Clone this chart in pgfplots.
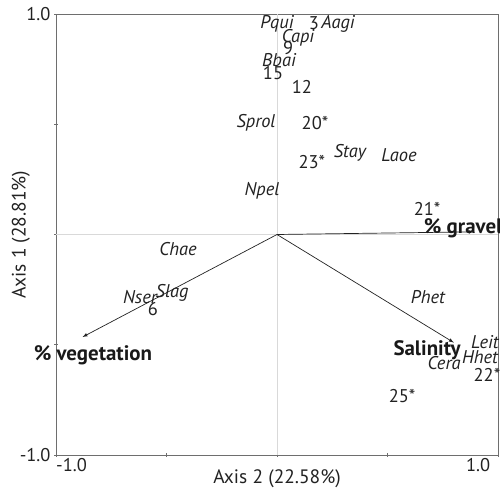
\documentclass[border=0pt]{standalone}
\usepackage{fontspec}
\setmainfont{PT Sans}
\usepackage{pgfplots}
\pgfplotsset{compat=1.18}
\definecolor{txt}{HTML}{222222}
\definecolor{frame}{HTML}{6e6e6e}
\begin{document}
\begin{tikzpicture}
\begin{axis}[
  scale only axis, width=442bp, height=441bp,
  xmin=-1, xmax=1, ymin=-1, ymax=1,
  clip=false,
  axis line style={frame, line width=0.9pt},
  tick pos=left, tick align=center,
  major tick length=4pt,
  tick style={frame, line width=0.8pt},
  xtick={-1,-0.5,0,0.5,1}, ytick={-1,-0.5,0,0.5,1},
  xticklabels={}, yticklabels={{-1.0},{},{},{},{1.0}},
  extra x ticks={-0.93,0.91},
  extra x tick labels={{-1.0},{1.0}},
  extra x tick style={major tick length=0pt},
  ticklabel style={font=\fontsize{18.5}{21}\selectfont, text=txt},
  /pgf/number format/assume math mode=true,
  xlabel={Axis 2 (22.58\%)}, ylabel={Axis 1 (28.81\%)},
  label style={font=\fontsize{19.5}{22}\selectfont, text=txt},
  xlabel style={yshift=11bp},
  ylabel style={yshift=-17bp},
]
\addplot[gray!30, line width=0.6pt] coordinates {(-1,0) (1,0)};
\addplot[gray!30, line width=0.6pt] coordinates {(0,-1) (0,1)};
% arrows
\addplot[-latex, txt, line width=0.7pt] coordinates {(0,0) (0.89,0.012)};
\addplot[-latex, txt, line width=0.7pt] coordinates {(0,0) (-0.88,-0.465)};
\addplot[-latex, txt, line width=0.7pt] coordinates {(0,0) (0.80,-0.49)};
% species (italic)
\addplot[draw=none, mark=none, nodes near coords, point meta=explicit symbolic,
  nodes near coords style={anchor=center, inner sep=0pt, text=txt, font=\fontsize{18.5}{21}\selectfont\itshape}]
coordinates {
(0.0,0.957) [Pqui]
(0.276,0.953) [Aagi]
(0.095,0.891) [Capi]
(0.009,0.791) [Bbai]
(-0.095,0.505) [Sprol]
(0.33,0.370) [Stay]
(0.552,0.361) [Laoe]
(-0.068,0.197) [Npel]
(-0.448,-0.066) [Chae]
(-0.62,-0.283) [Nser]
(-0.475,-0.265) [Slag]
(0.683,-0.283) [Phet]
(0.941,-0.487) [Leit]
(0.919,-0.555) [Hhet]
(0.756,-0.583) [Cera]
};
% sites (upright)
\addplot[draw=none, mark=none, nodes near coords, point meta=explicit symbolic,
  nodes near coords style={anchor=center, inner sep=0pt, text=txt, font=\fontsize{18.5}{21}\selectfont}]
coordinates {
(0.167,0.957) [3]
(0.05,0.846) [9]
(-0.018,0.732) [15]
(0.113,0.669) [12]
(0.172,0.505) [20*]
(0.158,0.329) [23*]
(0.679,0.116) [21*]
(-0.561,-0.34) [6]
(0.95,-0.637) [22*]
(0.566,-0.732) [25*]
};
% environmental variables (bold)
\addplot[draw=none, mark=none, nodes near coords, point meta=explicit symbolic,
  nodes near coords style={anchor=center, inner sep=0pt, text=black!90, font=\fontsize{21}{24}\selectfont\bfseries}]
coordinates {
(0.842,0.029) [\% gravel]
(-0.833,-0.546) [\% vegetation]
(0.679,-0.524) [Salinity]
};
\end{axis}
\pgfresetboundingbox
\path ([xshift=-56bp,yshift=-35bp]current axis.south west) rectangle ([xshift=2bp,yshift=14bp]current axis.north east);
\end{tikzpicture}
\end{document}
